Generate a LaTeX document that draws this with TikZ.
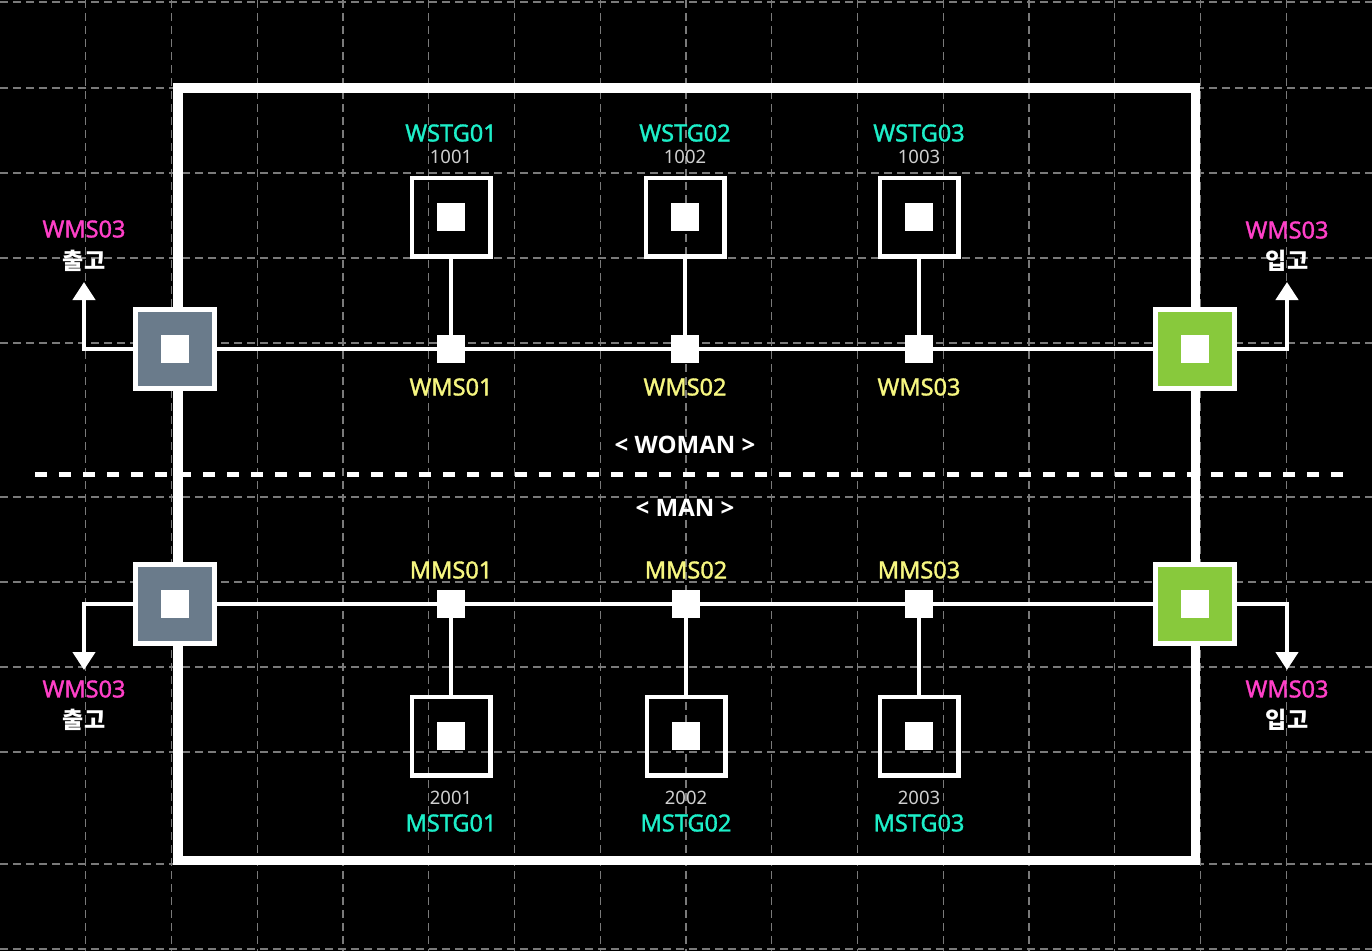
\documentclass[tikz,border=0pt]{standalone}
\usepackage{fontspec}
\setmainfont{Noto Sans}
\newfontfamily\labelfont[FakeBold=1.4]{Noto Sans}
\newfontfamily\zonefont{Open Sans}
\newfontfamily\krfont{Noto Sans CJK KR}
\usetikzlibrary{arrows.meta}
\definecolor{gridgray}{HTML}{7A7A7A}
\definecolor{hubgray}{HTML}{6A7B8B}
\definecolor{hubgreen}{HTML}{88C93C}
\definecolor{stgcyan}{HTML}{1DEEC8}
\definecolor{msyellow}{HTML}{F6F680}
\definecolor{iomagenta}{HTML}{FF40C8}
\definecolor{numgray}{HTML}{CFCFCF}

\begin{document}
\begin{tikzpicture}[x = 1pt, y = -1pt]
\tikzstyle{GridStyle}=[draw = gridgray,
                       line width = 1.2pt,
                       dash pattern = on 8pt off 5pt]
\tikzstyle{SquareStyle}=[shape = rectangle,
                         inner sep = 0pt,
                         draw = white,
                         path picture = {\fill[white] ([xshift = -14pt, yshift = -14pt]path picture bounding box.center) rectangle ([xshift = 14pt, yshift = 14pt]path picture bounding box.center);}]
\tikzstyle{HubStyle}=[SquareStyle, minimum size = 79pt, line width = 5pt]
\tikzstyle{StationStyle}=[SquareStyle, minimum size = 78.5pt, line width = 4.5pt]
\tikzstyle{JointStyle}=[shape = rectangle, minimum size = 28pt, inner sep = 0pt, fill = white]
\tikzstyle{WireStyle}=[draw = white, line width = 4.3pt]
\tikzstyle{ArrowStyle}=[WireStyle, -{Triangle[width = 22pt, length = 18pt]}]
\tikzstyle{StgLabel}=[inner sep = 0pt, text = stgcyan, font = \labelfont\fontsize{23.5}{26}\selectfont]
\tikzstyle{NumLabel}=[inner sep = 0pt, text = numgray, font = \fontsize{18.5}{20}\selectfont]
\tikzstyle{MsLabel}=[inner sep = 0pt, text = msyellow, font = \labelfont\fontsize{23.5}{26}\selectfont]
\tikzstyle{IoLabel}=[inner sep = 0pt, text = iomagenta, font = \labelfont\fontsize{23.5}{26}\selectfont]
\tikzstyle{KrLabel}=[inner sep = 0pt, text = white, font = \krfont\bfseries\fontsize{23}{26}\selectfont]
\tikzstyle{ZoneLabel}=[inner sep = 0pt, text = white, font = \zonefont\bfseries\fontsize{24}{28}\selectfont]
\useasboundingbox (0,0) rectangle (1372,951);
\fill[black] (0,0) rectangle (1372,951);
\foreach \k in {1,...,15}
  \draw[GridStyle] (\k*85.75,0) -- (\k*85.75,951);
\foreach \h in {2,88,173,258,343,497,582,667,752,864,949}
  \draw[GridStyle] (0,\h) -- (1372,\h);
\draw[white, line width = 9.5pt] (178,88) rectangle (1195.5,860.5);
\draw[white, line width = 5pt, dash pattern = on 12pt off 12pt] (35,474) -- (1345,474);
\node[HubStyle, fill = hubgray] (out1) at (175,349) {};
\node[HubStyle, fill = hubgray] (out2) at (175,604) {};
\node[HubStyle, fill = hubgreen] (in1) at (1195,349) {};
\node[HubStyle, fill = hubgreen] (in2) at (1195,604) {};
\node[StationStyle] (w1) at (451,217) {};
\node[StationStyle] (w2) at (685,217) {};
\node[StationStyle] (w3) at (919,217) {};
\node[StationStyle] (m1) at (451,736) {};
\node[StationStyle] (m2) at (686,736) {};
\node[StationStyle] (m3) at (919,736) {};
\node[JointStyle] (ws1) at (451,349) {};
\node[JointStyle] (ws2) at (685,349) {};
\node[JointStyle] (ws3) at (919,349) {};
\node[JointStyle] (ms1) at (451,604) {};
\node[JointStyle] (ms2) at (686,604) {};
\node[JointStyle] (ms3) at (919,604) {};
\coordinate (a1) at (84,282);
\coordinate (a2) at (84,670);
\coordinate (a3) at (1287,282);
\coordinate (a4) at (1287,670);
\draw[WireStyle] (out1.east) -- (ws1) -- (ws2) -- (ws3) -- (in1.west);
\draw[WireStyle] (out2.east) -- (ms1) -- (ms2) -- (ms3) -- (in2.west);
\draw[WireStyle] (w1) -- (ws1);
\draw[WireStyle] (w2) -- (ws2);
\draw[WireStyle] (w3) -- (ws3);
\draw[WireStyle] (m1) -- (ms1);
\draw[WireStyle] (m2) -- (ms2);
\draw[WireStyle] (m3) -- (ms3);
\draw[ArrowStyle] (out1.west) -| (a1);
\draw[ArrowStyle] (out2.west) -| (a2);
\draw[ArrowStyle] (in1.east) -| (a3);
\draw[ArrowStyle] (in2.east) -| (a4);
\node[StgLabel] (tw1) at (451,133) {WSTG01};
\node[StgLabel] (tw2) at (685,133) {WSTG02};
\node[StgLabel] (tw3) at (919,133) {WSTG03};
\node[NumLabel] (nw1) at (451,157) {1001};
\node[NumLabel] (nw2) at (685,157) {1002};
\node[NumLabel] (nw3) at (919,157) {1003};
\node[MsLabel] (lw1) at (451,387) {WMS01};
\node[MsLabel] (lw2) at (685,387) {WMS02};
\node[MsLabel] (lw3) at (919,387) {WMS03};
\node[ZoneLabel] (zw) at (685,445) {< WOMAN >};
\node[ZoneLabel] (zm) at (685,508) {< MAN >};
\node[MsLabel] (lm1) at (451,570) {MMS01};
\node[MsLabel] (lm2) at (686,570) {MMS02};
\node[MsLabel] (lm3) at (919,570) {MMS03};
\node[NumLabel] (nm1) at (451,798) {2001};
\node[NumLabel] (nm2) at (686,798) {2002};
\node[NumLabel] (nm3) at (919,798) {2003};
\node[StgLabel] (tm1) at (451,823) {MSTG01};
\node[StgLabel] (tm2) at (686,823) {MSTG02};
\node[StgLabel] (tm3) at (919,823) {MSTG03};
\node[IoLabel] (io1) at (84,229) {WMS03};
\node[KrLabel] (kr1) at (84,261) {출고};
\node[IoLabel] (io2) at (84,689) {WMS03};
\node[KrLabel] (kr2) at (84,720) {출고};
\node[IoLabel] (io3) at (1287,230) {WMS03};
\node[KrLabel] (kr3) at (1287,261) {입고};
\node[IoLabel] (io4) at (1287,689) {WMS03};
\node[KrLabel] (kr4) at (1287,720) {입고};
\end{tikzpicture}
\end{document}
